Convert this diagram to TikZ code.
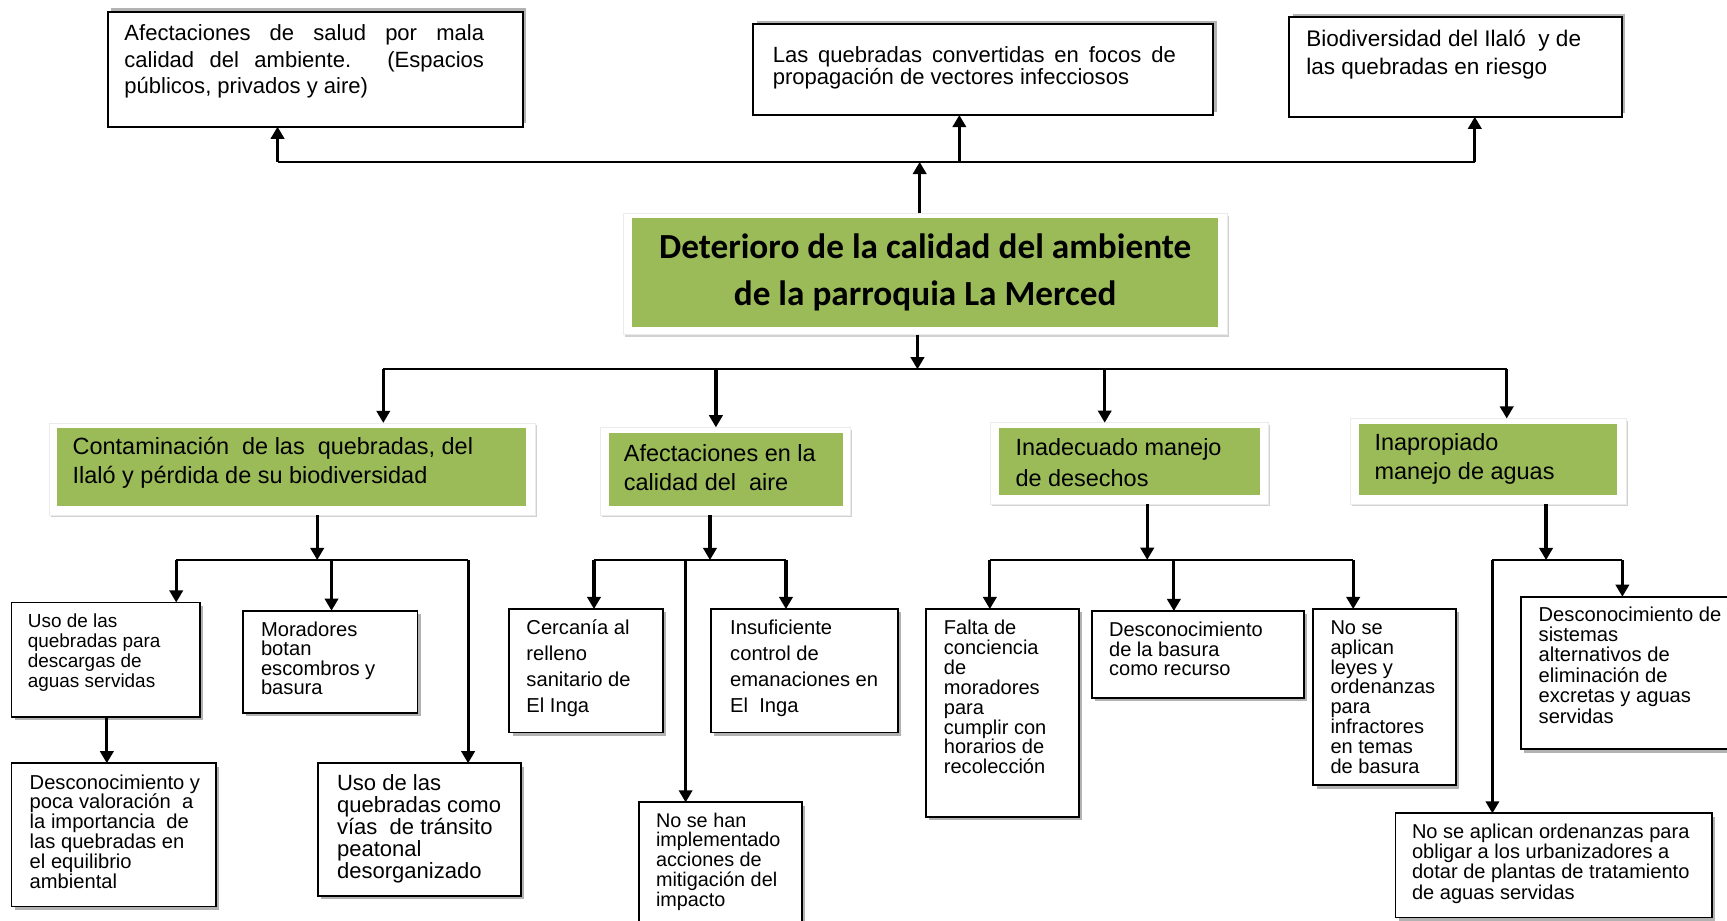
\documentclass[tikz,border=0pt]{standalone}
\usepackage{fontspec}
\setmainfont{Liberation Sans}
\newfontfamily\titlefont{Carlito}
\usetikzlibrary{arrows.meta,shadows}
\definecolor{olivegreen}{HTML}{9BBB59}
\newcommand\setf[2]{\fontsize{#1}{#2}\selectfont\lineskiplimit=-100pt\relax}
\newcommand\fl{\rule{0pt}{1em}}
\newcommand\jl[2]{\makebox[#1][s]{#2}}
\begin{document}
\begin{tikzpicture}[x=1pt,y=-1pt,
  box/.style={draw=black, line width=1.7pt, fill=white, inner sep=0pt, outer sep=0pt, anchor=north west,
    drop shadow={shadow xshift=3pt,shadow yshift=-3pt,fill=black,opacity=.3}},
  topbox/.style={draw=black, line width=1.7pt, fill=white, inner sep=0pt, outer sep=0pt, anchor=north west,
    drop shadow={shadow xshift=3pt,shadow yshift=3pt,fill=black,opacity=.3}},
  frame/.style={draw=black!8, line width=.6pt, fill=white, inner sep=0pt, outer sep=0pt, anchor=north west,
    drop shadow={shadow xshift=1.5pt,shadow yshift=-2pt,fill=black,opacity=.18}},
  greenbox/.style={fill=olivegreen, draw=none, inner sep=0pt, outer sep=0pt, anchor=north west},
  txt/.style={anchor=north west, inner sep=0pt, outer sep=0pt, align=left},
  arr/.style={line width=2.9pt, -{Triangle[length=11pt,width=12pt]}},
  hl/.style={line width=1.9pt}
]
\useasboundingbox[fill=white] (0,0) rectangle (1568,835.3);

% ---------- top boxes ----------
\node[topbox, minimum width=377pt, minimum height=104.4pt] (A) at (98,10.6) {};
\node[topbox, minimum width=417.7pt, minimum height=82.6pt] (B) at (684,21.8) {};
\node[topbox, minimum width=301.7pt, minimum height=90.3pt] (C) at (1170.6,15.7) {};
\node[txt, font=\setf{20}{24}] (At) at (113,17) {\fl\jl{326.5pt}{Afectaciones de salud por mala}\\\jl{326.5pt}{calidad del ambiente. (Espacios}\\públicos, privados y aire)};
\node[txt, font=\setf{20}{19.5}] (Bt) at (701.6,37) {\fl\jl{366pt}{Las quebradas convertidas en focos de}\\propagación de vectores infecciosos};
\node[txt, font=\setf{20.5}{25}] (Ct) at (1186,22) {\fl Biodiversidad del Ilaló\ \ y de\\las quebradas en riesgo};

% ---------- main box ----------
\node[frame, minimum width=548.5pt, minimum height=110pt] (M) at (565.5,193.7) {};
\node[greenbox, minimum width=532pt, minimum height=98.7pt] (Mg) at (574,198.3) {};
\node[anchor=north, inner sep=0pt, align=center, font=\titlefont\bfseries\setf{32}{42.5}] (Mt) at (840,202.5) {\fl Deterioro de la calidad del ambiente\\de la parroquia La Merced};

% ---------- category boxes ----------
\node[frame, minimum width=441.6pt, minimum height=83.6pt] (c1f) at (44.4,384) {};
\node[greenbox, minimum width=426pt, minimum height=70pt] (c1) at (52,389) {};
\node[txt, font=\setf{21.3}{26.3}] (c1t) at (66,391.7) {\fl Contaminación\ \ de las\ \ quebradas, del\\Ilaló y pérdida de su biodiversidad};

\node[frame, minimum width=226.4pt, minimum height=79.6pt] (c2f) at (545.4,388) {};
\node[greenbox, minimum width=211.8pt, minimum height=65.9pt] (c2) at (553.2,393.5) {};
\node[txt, font=\setf{21.3}{26.3}] (c2t) at (566.5,397.3) {\fl Afectaciones en la\\calidad del\ \ aire};

\node[frame, minimum width=252.5pt, minimum height=73.8pt] (c3f) at (899,383.8) {};
\node[greenbox, minimum width=237pt, minimum height=60.5pt] (c3) at (907,389) {};
\node[txt, font=\setf{21.3}{27.3}] (c3t) at (922,392.7) {\fl Inadecuado manejo\\de desechos};

\node[frame, minimum width=250.4pt, minimum height=77.6pt] (c4f) at (1226,380) {};
\node[greenbox, minimum width=234pt, minimum height=64.5pt] (c4) at (1234,385) {};
\node[txt, font=\setf{21.3}{26.4}] (c4t) at (1248,387.3) {\fl Inapropiado\\manejo de aguas};

% ---------- sub boxes ----------
\node[box, minimum width=171.2pt, minimum height=103.7pt] (u1) at (10.4,547) {};
\node[txt, font=\setf{17.2}{18}] at (25.3,552.8) {\fl Uso de las\\quebradas para\\descargas de\\aguas servidas};

\node[box, minimum width=185.6pt, minimum height=130pt] (d1) at (10.4,693) {};
\node[txt, font=\setf{18.3}{18}] at (27,698.2) {\fl Desconocimiento y\\poca valoración\ \ a\\la importancia\ \ de\\las quebradas en\\el equilibrio\\ambiental};

\node[box, minimum width=158.5pt, minimum height=92.5pt] (mo) at (220.5,554.5) {};
\node[txt, font=\setf{18.3}{17.5}] at (237,559.7) {\fl Moradores\\botan\\escombros y\\basura};

\node[box, minimum width=184.4pt, minimum height=120.5pt] (u2) at (288.6,693) {};
\node[txt, font=\setf{20}{20}] at (306,698) {\fl Uso de las\\quebradas como\\vías\ \ de tránsito\\peatonal\\desorganizado};

\node[box, minimum width=139.3pt, minimum height=112pt] (ce) at (462.4,553) {};
\node[txt, font=\setf{18.3}{23.5}] at (478,557.7) {\fl Cercanía al\\relleno\\sanitario de\\El Inga};

\node[box, minimum width=169.5pt, minimum height=112pt] (in) at (645.5,553) {};
\node[txt, font=\setf{18.3}{23.5}] at (663,557.7) {\fl Insuficiente\\control de\\emanaciones en\\El\ \ Inga};

\node[box, minimum width=147.5pt, minimum height=109.5pt] (nh) at (580.5,728.5) {};
\node[txt, font=\setf{18}{18}] at (595.6,733) {\fl No se han\\implementado\\acciones de\\mitigación del\\impacto};

\node[box, minimum width=139.2pt, minimum height=188.5pt] (fa) at (840.6,553) {};
\node[txt, font=\setf{18.2}{18}] at (857,558.3) {\fl Falta de\\conciencia\\de\\moradores\\para\\cumplir con\\horarios de\\recolección};

\node[box, minimum width=192.2pt, minimum height=78.7pt] (db) at (991.6,554.8) {};
\node[txt, font=\setf{18.2}{17.7}] at (1007,559.8) {\fl Desconocimiento\\de la basura\\como recurso};

\node[box, minimum width=129.7pt, minimum height=160pt] (nl) at (1192.3,553) {};
\node[txt, font=\setf{18.2}{18}] at (1208,557.8) {\fl No se\\aplican\\leyes y\\ordenanzas\\para\\infractores\\en temas\\de basura};

\node[box, minimum width=199pt, minimum height=138.6pt] (ds) at (1381,541.8) {};
\node[txt, font=\setf{18.3}{18.5}] at (1397,545.7) {\fl Desconocimiento de\\sistemas\\alternativos de\\eliminación de\\excretas y aguas\\servidas};

\node[box, minimum width=287pt, minimum height=94.5pt] (no) at (1267,738.5) {};
\node[txt, font=\setf{18.2}{18.5}] at (1282,742.8) {\fl No se aplican ordenanzas para\\obligar a los urbanizadores a\\dotar de plantas de tratamiento\\de aguas servidas};

% ---------- connector coordinates ----------
\coordinate (t0) at (835,147);
\coordinate (tl) at (252,147);
\coordinate (tB) at (871,147);
\coordinate (tr) at (1339,147);
\coordinate (mb) at (833,335.3);
\coordinate (h1) at (348,335.3);
\coordinate (h2) at (650,335.3);
\coordinate (h3) at (1003,335.3);
\coordinate (h4) at (1368,335.3);
\coordinate (g1) at (288,508.5);
\coordinate (g1l) at (160,508.5);
\coordinate (g1m) at (301,508.5);
\coordinate (g1r) at (425,508.5);
\coordinate (ux) at (97,600);
\coordinate (g2) at (644.6,508.5);
\coordinate (g2l) at (539.3,508.5);
\coordinate (g2m) at (622.5,508.5);
\coordinate (g2r) at (713.6,508.5);
\coordinate (g3) at (1041.6,508.3);
\coordinate (g3l) at (898.7,508.3);
\coordinate (g3m) at (1065.8,508.3);
\coordinate (g3r) at (1228.6,508.3);
\coordinate (g4) at (1403.7,508.5);
\coordinate (g4l) at (1355,508.5);
\coordinate (g4r) at (1473,508.5);

% ---------- top connectors ----------
\draw[hl] (tl) -- (tr);
\draw[arr] (M.north -| t0) -- (t0);
\draw[arr] (tl) -- (tl |- A.south);
\draw[arr] (tB) -- (tB |- B.south);
\draw[arr] (tr) -- (tr |- C.south);

% ---------- main to categories ----------
\draw[arr] (M.south -| mb) -- (mb);
\draw[hl] (h1) -- (h4);
\draw[arr] (h1) -- (h1 |- c1f.north);
\draw[arr] (h2) -- (h2 |- c2f.north);
\draw[arr] (h3) -- (h3 |- c3f.north);
\draw[arr] (h4) -- (h4 |- c4f.north);

% ---------- group 1 ----------
\draw[arr] (c1f.south -| g1) -- (g1);
\draw[hl] (g1l) -- (g1r);
\draw[arr] (g1l) -- (g1l |- u1.north);
\draw[arr] (g1m) -- (g1m |- mo.north);
\draw[arr] (g1r) -- (g1r |- u2.north);
\draw[arr] (u1.south -| ux) -- (d1.north -| ux);

% ---------- group 2 ----------
\draw[arr] (c2f.south -| g2) -- (g2);
\draw[hl] (g2l) -- (g2r);
\draw[arr] (g2l) -- (g2l |- ce.north);
\draw[arr] (g2r) -- (g2r |- in.north);
\draw[arr] (g2m) -- (g2m |- nh.north);

% ---------- group 3 ----------
\draw[arr] (c3f.south -| g3) -- (g3);
\draw[hl] (g3l) -- (g3r);
\draw[arr] (g3l) -- (g3l |- fa.north);
\draw[arr] (g3m) -- (g3m |- db.north);
\draw[arr] (g3r) -- (g3r |- nl.north);

% ---------- group 4 ----------
\draw[arr] (c4f.south -| g4) -- (g4);
\draw[hl] (g4l) -- (g4r);
\draw[arr] (g4r) -- (g4r |- ds.north);
\draw[arr] (g4l) -- (g4l |- no.north);
\end{tikzpicture}
\end{document}
